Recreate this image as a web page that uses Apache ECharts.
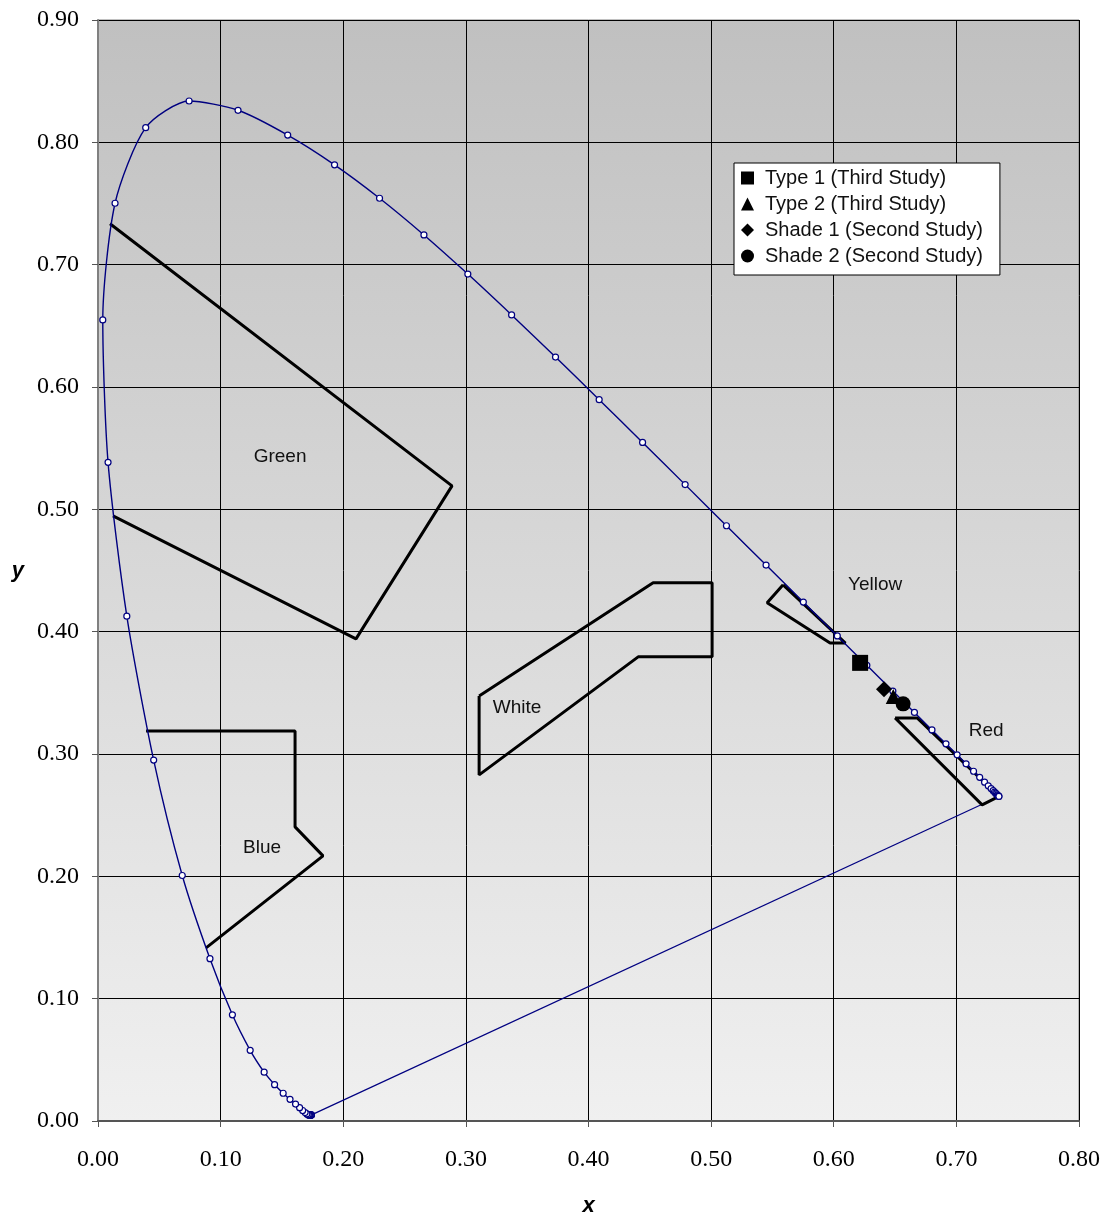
<!DOCTYPE html>
<html>
<head>
<meta charset="utf-8">
<script src="https://cdn.jsdelivr.net/npm/echarts@6/dist/echarts.min.js"></script>
<style>
  html, body { margin: 0; padding: 0; background: #fff; }
  #chart { width: 1108px; height: 1218px; }
</style>
</head>
<body>
<div id="chart"></div>
<script>
// spectral locus, CIE 1931 x,y at 5 nm steps (380 - 700 nm)
const locusX = [0.1741, 0.1740, 0.1738, 0.1736, 0.1733, 0.1730, 0.1726, 0.1721, 0.1714, 0.1703,
  0.1689, 0.1669, 0.1644, 0.1611, 0.1566, 0.1510, 0.1440, 0.1355, 0.1241, 0.1096,
  0.0913, 0.0687, 0.0454, 0.0235, 0.0082, 0.0039, 0.0139, 0.0389, 0.0743, 0.1142,
  0.1547, 0.1929, 0.2296, 0.2658, 0.3016, 0.3373, 0.3731, 0.4087, 0.4441, 0.4788,
  0.5125, 0.5448, 0.5752, 0.6029, 0.6270, 0.6482, 0.6658, 0.6801, 0.6915, 0.7006,
  0.7079, 0.7140, 0.7190, 0.7230, 0.7260, 0.7283, 0.7300, 0.7311, 0.7320, 0.7327,
  0.7334, 0.7340, 0.7344, 0.7346, 0.7347]
const locusY = [0.0050, 0.0050, 0.0049, 0.0049, 0.0048, 0.0048, 0.0048, 0.0048, 0.0051, 0.0058,
  0.0069, 0.0086, 0.0109, 0.0138, 0.0177, 0.0227, 0.0297, 0.0399, 0.0578, 0.0868,
  0.1327, 0.2007, 0.2950, 0.4127, 0.5384, 0.6548, 0.7502, 0.8120, 0.8338, 0.8262,
  0.8059, 0.7816, 0.7543, 0.7243, 0.6923, 0.6589, 0.6245, 0.5896, 0.5547, 0.5202,
  0.4866, 0.4544, 0.4242, 0.3965, 0.3725, 0.3514, 0.3340, 0.3197, 0.3083, 0.2993,
  0.2920, 0.2859, 0.2809, 0.2770, 0.2740, 0.2717, 0.2700, 0.2689, 0.2680, 0.2673,
  0.2666, 0.2660, 0.2656, 0.2654, 0.2653]

// region outlines
const greenRegion = [[0.0098, 0.7334], [0.2887, 0.5192], [0.2104, 0.3941], [0.0122, 0.4947]]
const blueRegion = [[0.0392, 0.3189], [0.1607, 0.3189], [0.1607, 0.2404], [0.1835, 0.2167], [0.0881, 0.1415]]
const whiteRegion = [[0.3108, 0.3475], [0.4527, 0.4399], [0.5008, 0.4399], [0.5008, 0.3794],
  [0.4405, 0.3794], [0.3108, 0.2829], [0.3108, 0.3475]]
const yellowRegion = [[0.5587, 0.4383], [0.5457, 0.4236], [0.5970, 0.3907], [0.6095, 0.3907], [0.5587, 0.4383]]
const redRegion = [[0.6500, 0.3295], [0.6680, 0.3295], [0.7347, 0.2653], [0.7210, 0.2584], [0.6500, 0.3295]]

const regionNames = ['Green', 'Blue', 'White', 'Yellow', 'Red']
const regionLabelPos = [[0.1485, 0.543], [0.1338, 0.2232], [0.3418, 0.3377], [0.6338, 0.4383], [0.7243, 0.3189]]

// measured samples
const type1 = [[0.6215, 0.3745]]
const type2 = [[0.6485, 0.3470]]
const shade1 = [[0.6410, 0.3530]]
const shade2 = [[0.6566, 0.3410]]

const ticksX = ['0.00', '0.10', '0.20', '0.30', '0.40', '0.50', '0.60', '0.70', '0.80']

const chart = echarts.init(document.getElementById('chart'))

const locus = locusX.map((x, i) => [x, locusY[i]])
const regionStyle = { color: '#000', width: 3 }

function region(data) {
  return {
    type: 'line', data: data, showSymbol: false, symbol: 'none',
    lineStyle: regionStyle, silent: true, z: 3, animation: false
  }
}

const serif = 'Liberation Serif, Times New Roman, serif'
const sans = 'Liberation Sans, Arial, sans-serif'

const option = {
  animation: false,
  grid: {
    left: 98, right: 29, top: 20, bottom: 97,
    outerBoundsMode: 'none',
    containLabel: false,
    show: true,
    borderColor: '#808080',
    borderWidth: 1,
    backgroundColor: new echarts.graphic.LinearGradient(0, 0, 0, 1, [
      { offset: 0, color: '#c0c0c0' },
      { offset: 1, color: '#f0f0f0' }
    ])
  },
  legend: {
    data: ['Type 1 (Third Study)', 'Type 2 (Third Study)', 'Shade 1 (Second Study)', 'Shade 2 (Second Study)'],
    orient: 'vertical',
    left: 734, top: 163,
    padding: [5, 17, 9, 7],
    itemWidth: 13, itemHeight: 13,
    itemGap: 6,
    backgroundColor: '#fff',
    borderColor: '#000',
    borderWidth: 1,
    borderRadius: 0,
    itemStyle: { opacity: 1 },
    textStyle: { fontFamily: sans, fontSize: 20, color: '#111', lineHeight: 20, padding: [0, 0, 0, 6] }
  },
  xAxis: {
    type: 'value', min: 0, max: 0.8, interval: 0.1,
    name: 'x', nameLocation: 'middle', nameGap: 74,
    nameTextStyle: { fontFamily: sans, fontSize: 22, fontWeight: 'bold', fontStyle: 'italic', color: '#000' },
    axisLine: { show: true, lineStyle: { color: '#555', width: 2 } },
    axisTick: { show: true, length: 6, lineStyle: { color: '#555' } },
    axisLabel: {
      fontFamily: serif, fontSize: 24, color: '#000', margin: 27,
      formatter: (v) => ticksX[Math.round(v * 10)]
    },
    splitLine: { show: true, lineStyle: { color: '#000', width: 1 } }
  },
  yAxis: {
    type: 'value', min: 0, max: 0.9, interval: 0.1,
    name: 'y', nameLocation: 'middle', nameGap: 74, nameRotate: 0,
    nameTextStyle: { fontFamily: sans, fontSize: 22, fontWeight: 'bold', fontStyle: 'italic', color: '#000' },
    axisLine: { show: true, lineStyle: { color: '#808080', width: 2 } },
    axisTick: { show: true, length: 6, lineStyle: { color: '#555' } },
    axisLabel: {
      fontFamily: serif, fontSize: 24, color: '#000', margin: 19,
      formatter: (v) => v.toFixed(2)
    },
    splitLine: { show: true, lineStyle: { color: '#000', width: 1 } }
  },
  series: [
    {
      // purple line closing the locus
      type: 'line', data: [locus[locus.length - 1], locus[0]],
      showSymbol: false, symbol: 'none', silent: true,
      lineStyle: { color: '#000080', width: 1.2 }, z: 2
    },
    {
      type: 'line', data: locus, smooth: 0.25,
      symbol: 'circle', symbolSize: 6, showAllSymbol: true, silent: true,
      itemStyle: { color: '#fff', borderColor: '#000080', borderWidth: 1.2 },
      lineStyle: { color: '#000080', width: 1.4 }, z: 4
    },
    region(greenRegion),
    region(blueRegion),
    region(whiteRegion),
    region(yellowRegion),
    region(redRegion),
    {
      type: 'scatter', silent: true, symbolSize: 0, z: 5,
      itemStyle: { opacity: 1 },
      data: regionLabelPos.map((p, i) => ({ value: p, name: regionNames[i] })),
      label: {
        show: true, position: 'inside', formatter: '{b}',
        fontFamily: sans, fontSize: 19, color: '#111'
      }
    },
    {
      name: 'Type 1 (Third Study)', type: 'scatter', data: type1,
      symbol: 'rect', symbolSize: 16, itemStyle: { color: '#000', opacity: 1 }, z: 6
    },
    {
      name: 'Type 2 (Third Study)', type: 'scatter', data: type2,
      symbol: 'triangle', symbolSize: 15, itemStyle: { color: '#000', opacity: 1 }, z: 6
    },
    {
      name: 'Shade 1 (Second Study)', type: 'scatter', data: shade1,
      symbol: 'diamond', symbolSize: 16, itemStyle: { color: '#000', opacity: 1 }, z: 6
    },
    {
      name: 'Shade 2 (Second Study)', type: 'scatter', data: shade2,
      symbol: 'circle', symbolSize: 15, itemStyle: { color: '#000', opacity: 1 }, z: 6
    }
  ]
}

chart.setOption(option)
</script>
</body>
</html>
